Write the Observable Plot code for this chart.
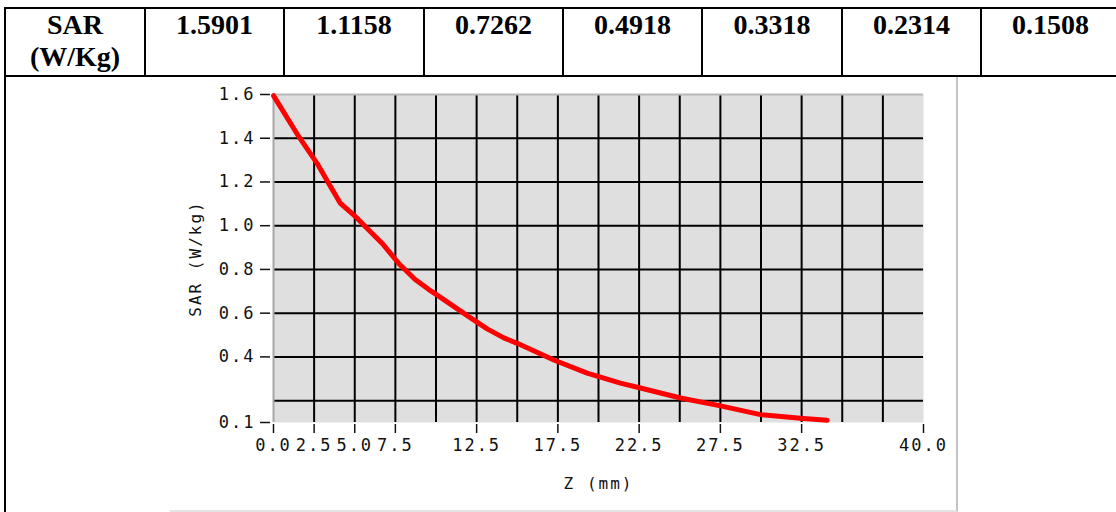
<!DOCTYPE html>
<html><head><meta charset="utf-8">
<script src="https://cdn.jsdelivr.net/npm/d3@7"></script>
<script src="https://cdn.jsdelivr.net/npm/@observablehq/plot@0.6"></script>
<style>
html,body{margin:0;padding:0;background:#fff;}
#wrap{position:relative;width:1116px;height:512px;overflow:hidden;}
#chart{position:absolute;left:0;top:0;}
#imgframe{position:absolute;left:170px;top:77px;width:786px;height:433px;border-right:2px solid #c4c4c4;border-bottom:2px solid #e4e4e4;}
#tbl{position:absolute;left:4px;top:7px;border-collapse:collapse;table-layout:fixed;font:bold 28px "Liberation Serif","Times New Roman",serif;color:#000;}
#tbl td{border:2px solid #000;padding:0;text-align:center;vertical-align:top;line-height:32px;}
</style></head>
<body><div id="wrap"><div id="chart"></div><div id="imgframe"></div><table id="tbl"></table></div>
<script>
// ---- data ----
const tableHeader = ["SAR", "(W/Kg)"];
const tableValues = ["1.5901", "1.1158", "0.7262", "0.4918", "0.3318", "0.2314", "0.1508"];

const zValues   = [0, 1.56, 2.69, 3.40, 4.12, 5.05, 5.66, 6.69, 7.71, 8.70, 9.56, 10.28, 11.92, 13.15, 14.17, 15.0, 17.25, 19.30, 21.35, 22.58, 25.05, 27.51, 29.97, 32.43, 34.07];
const sarValues = [1.595, 1.407, 1.284, 1.193, 1.102, 1.041, 0.995, 0.919, 0.827, 0.755, 0.708, 0.672, 0.589, 0.528, 0.487, 0.462, 0.386, 0.326, 0.280, 0.258, 0.212, 0.176, 0.136, 0.119, 0.110];

const xTicks = [0, 2.5, 5, 7.5, 12.5, 17.5, 22.5, 27.5, 32.5, 40];
const yTicks = [0.1, 0.4, 0.6, 0.8, 1.0, 1.2, 1.4, 1.6];
const xGrid = [2.5, 5, 7.5, 10, 12.5, 15, 17.5, 20, 22.5, 25, 27.5, 30, 32.5, 35, 37.5];
const yGrid = [0.2, 0.4, 0.6, 0.8, 1.0, 1.2, 1.4];
const xDomain = [0, 40];
const yDomain = [0.1, 1.6];
const xLabel = "Z (mm)";
const yLabel = "SAR (W/kg)";

// ---- table ----
const colWidths = [140, 139, 140, 139, 139, 140, 139, 139];
const tbl = document.getElementById("tbl");
tbl.style.width = colWidths.reduce((a, b) => a + b, 0) + "px";
const cg = document.createElement("colgroup");
colWidths.forEach(w => { const c = document.createElement("col"); c.style.width = w + "px"; cg.appendChild(c); });
tbl.appendChild(cg);
const tr1 = document.createElement("tr");
tr1.style.height = "68px";
const th = document.createElement("td");
th.innerHTML = tableHeader.join("<br>");
tr1.appendChild(th);
tableValues.forEach(v => { const td = document.createElement("td"); td.textContent = v; tr1.appendChild(td); });
tbl.appendChild(tr1);
const tr2 = document.createElement("tr");
const big = document.createElement("td");
big.colSpan = colWidths.length;
big.style.height = "460px";
big.style.borderBottom = "none";
tr2.appendChild(big);
tbl.appendChild(tr2);

// ---- chart ----
const data = zValues.map((z, i) => ({z, sar: sarValues[i]}));
const fmt = d3.format(".1f");
const chart = Plot.plot({
  width: 1116, height: 512,
  marginLeft: 273, marginRight: 193, marginTop: 94, marginBottom: 90,
  style: {fontFamily: '"DejaVu Sans Mono", monospace', fontSize: "17px", letterSpacing: "2px", color: "#111", background: "#fff"},
  x: {domain: xDomain},
  y: {domain: yDomain},
  marks: [
    Plot.frame({fill: "#dfdfdf", stroke: "none"}),
    Plot.ruleX(xGrid, {stroke: "#000", strokeWidth: 2}),
    Plot.ruleY(yGrid, {stroke: "#000", strokeWidth: 2}),
    Plot.ruleX([xDomain[0]], {stroke: "#a8a8a8", strokeWidth: 2}),
    Plot.ruleY([yDomain[1]], {stroke: "#b8b8b8", strokeWidth: 2}),
    Plot.line(data, {x: "z", y: "sar", stroke: "#ff0000", strokeWidth: 5}),
    Plot.axisX(xTicks, {tickSize: 9, tickPadding: 5, dy: 2, tickFormat: fmt, strokeWidth: 1.5, label: null}),
    Plot.axisY(yTicks, {tickSize: 10, tickPadding: 5, dx: -3, tickFormat: fmt, strokeWidth: 1.5, label: null}),
    Plot.text([xLabel], {frameAnchor: "bottom", dy: 61, lineAnchor: "middle", fontSize: 16}),
    Plot.text([yLabel], {frameAnchor: "left", textAnchor: "middle", dx: -78, rotate: -90, fontSize: 16})
  ]
});
document.getElementById("chart").appendChild(chart);
</script>
</body></html>
